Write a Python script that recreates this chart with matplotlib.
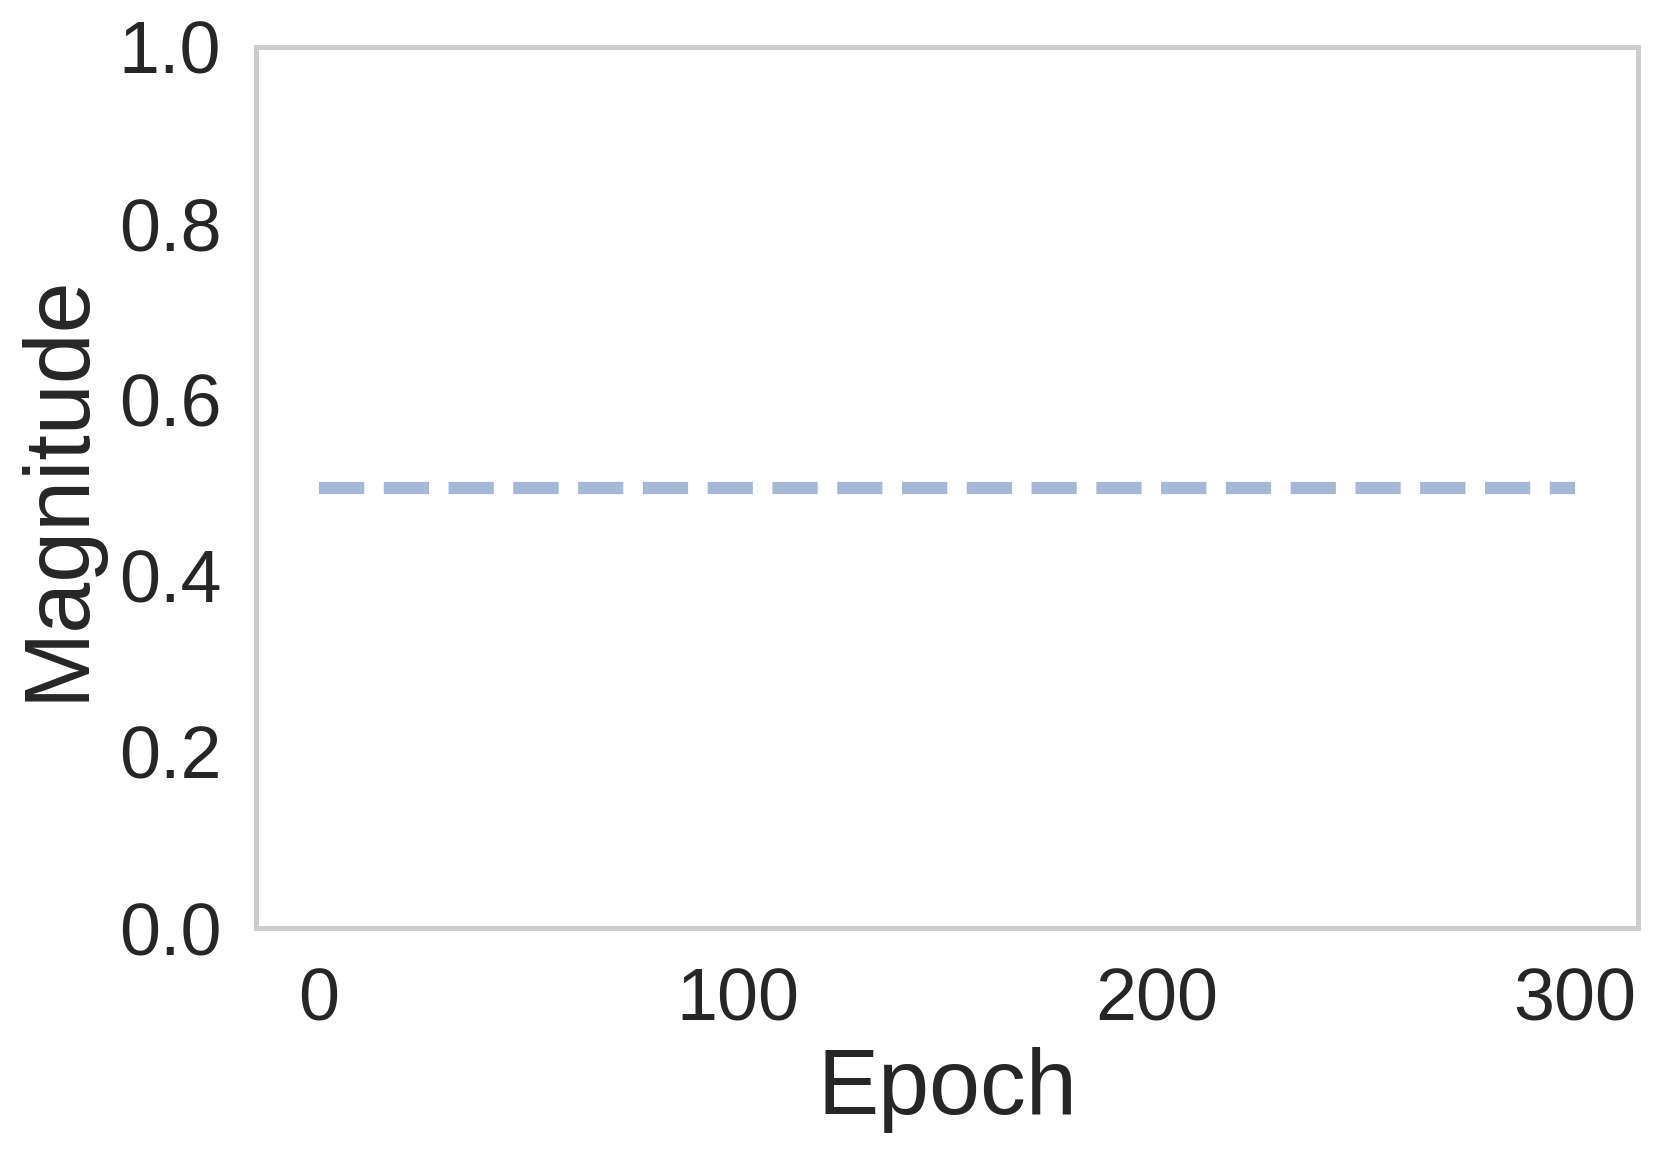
import numpy as np
import matplotlib
matplotlib.use("Agg")
import matplotlib.pyplot as plt

epochs = list(range(0, 301))
magnitude = [0.5] * len(epochs)
xticks = [0, 100, 200, 300]
yticks = [0.0, 0.2, 0.4, 0.6, 0.8, 1.0]

plt.rcParams['font.family'] = ['Liberation Sans', 'DejaVu Sans']

fig = plt.figure(figsize=(1661 / 200, 1150 / 200), dpi=200)
ax = fig.add_axes([256 / 1661, 1 - 928 / 1150, (1638 - 256) / 1661, (928 - 47) / 1150])

ax.plot(epochs, magnitude, linestyle='--', color='#4c72b0', alpha=0.5, linewidth=4.4)

ax.set_ylim(0, 1.0)
ax.set_xticks(xticks)
ax.set_yticks(yticks)
ax.set_yticklabels([f"{v:.1f}" for v in yticks])
ax.tick_params(axis='both', which='both', length=0, pad=14, labelsize=26.5, colors='#262626')
ax.tick_params(axis='y', pad=12.5)
for s in ax.spines.values():
    s.set_color('#cccccc')
    s.set_linewidth(1.8)
ax.set_xlabel('Epoch', fontsize=33, color='#262626', labelpad=4)
ax.set_ylabel('Magnitude', fontsize=33, color='#262626', labelpad=6)

fig.savefig('out.png', dpi=200)
